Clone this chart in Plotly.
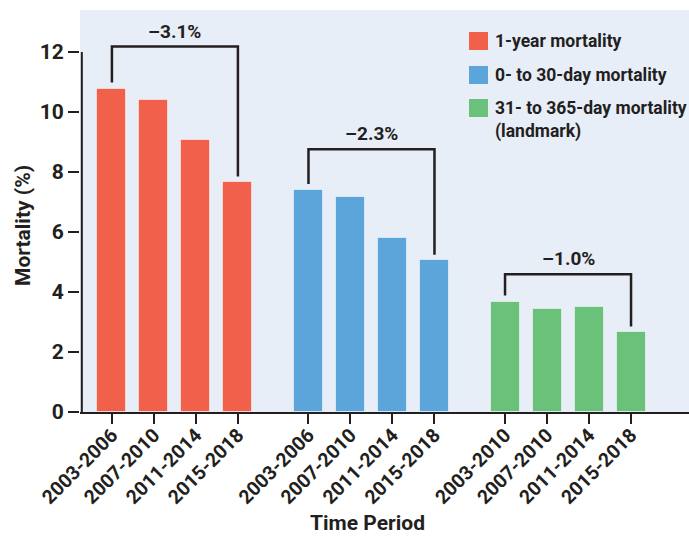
import plotly.graph_objects as go

periods_a = ["2003-2006", "2007-2010", "2011-2014", "2015-2018"]
periods_c = ["2003-2010", "2007-2010", "2011-2014", "2015-2018"]
series_names = ["1-year mortality", "0- to 30-day mortality", "31- to 365-day mortality<br>(landmark)"]
one_year = [10.78, 10.41, 9.08, 7.68]
day_0_30 = [7.40, 7.16, 5.80, 5.07]
day_31_365 = [3.68, 3.42, 3.49, 2.68]
bracket_levels = [12.18, 8.76, 4.59]
colors = ["#F0604A", "#5CA5DB", "#6AC17A"]

groups = [one_year, day_0_30, day_31_365]
group_labels = [periods_a, periods_a, periods_c]

GROUP_STEP = 4.68
W, H = 689, 536
L, R, T, B = 80, 0, 10, 124
PW, PH = W - L - R, H - T - B
FONT = "Roboto"
INK = "#231f20"


def px(x):
    return (x - L) / PW


def py(y):
    return (H - B - y) / PH


fig = go.Figure()
tickvals, ticktext = [], []
shapes, annotations = [], []
for g, (vals, labels, col) in enumerate(zip(groups, group_labels, colors)):
    xs = [g * GROUP_STEP + i for i in range(len(vals))]
    tickvals += xs
    ticktext += labels
    fig.add_trace(go.Bar(
        x=xs, y=vals, width=0.69, name=series_names[g],
        marker=dict(color=col, line=dict(color="rgba(255,255,255,0.55)", width=1)),
        showlegend=False, hoverinfo="y",
    ))
    lvl = bracket_levels[g]
    shapes.append(dict(
        type="path", xref="x", yref="y",
        path=f"M {xs[0]},{vals[0] + 0.2} L {xs[0]},{lvl} L {xs[-1]},{lvl} L {xs[-1]},{vals[-1] + 0.17}",
        line=dict(color=INK, width=2.5),
    ))
    change = vals[-1] - vals[0]
    annotations.append(dict(
        x=(xs[0] + xs[-1]) / 2, y=lvl, xref="x", yref="y",
        text=f"\u2013{abs(change):.1f}%", showarrow=False,
        yanchor="bottom", yshift=2,
        font=dict(family=FONT, size=19, color=INK, weight="bold"),
    ))

# y axis line (0 to 12)
shapes.append(dict(type="line", xref="paper", yref="y", x0=0.003, x1=0.003, y0=0, y1=12,
                   line=dict(color=INK, width=2)))

# manual legend
leg_y = [41, 75, 108]
for name, col, yy in zip(series_names, colors, leg_y):
    shapes.append(dict(type="rect", xref="paper", yref="paper",
                       x0=px(469), x1=px(488), y0=py(yy + 9), y1=py(yy - 9),
                       fillcolor=col, line=dict(width=0)))
    annotations.append(dict(
        x=px(493), y=py(yy - 12), xref="paper", yref="paper",
        text=name, showarrow=False, xanchor="left", yanchor="top", align="left",
        font=dict(family=FONT, size=17.5, color=INK, weight="bold"),
    ))

# axis titles
annotations.append(dict(x=px(367), y=py(523), xref="paper", yref="paper", text="Time Period",
                        showarrow=False, xanchor="center", yanchor="middle",
                        font=dict(family=FONT, size=21, color=INK, weight="bold")))
annotations.append(dict(x=px(23), y=py(226), xref="paper", yref="paper", text="Mortality (%)",
                        showarrow=False, textangle=-90, xanchor="center", yanchor="middle",
                        font=dict(family=FONT, size=21, color=INK, weight="bold")))

fig.update_layout(
    width=W, height=H,
    margin=dict(l=L, r=R, t=T, b=B),
    paper_bgcolor="white", plot_bgcolor="#E8EEF8",
    shapes=shapes, annotations=annotations,
    bargap=0,
    xaxis=dict(
        range=[-0.76, 13.74], tickvals=tickvals, ticktext=ticktext, tickangle=-45,
        showline=True, linecolor=INK, linewidth=2, ticks="outside", ticklen=10,
        tickwidth=2, tickcolor=INK, showgrid=False, zeroline=False, automargin=False,
        ticklabelstandoff=-8,
        tickfont=dict(family=FONT, size=19.5, color=INK, weight="bold"),
    ),
    yaxis=dict(
        range=[0, 13.4], tickvals=[0, 2, 4, 6, 8, 10, 12], ticks="outside", ticklen=11,
        tickwidth=2, tickcolor=INK, showgrid=False, zeroline=False, showline=False,
        automargin=False,
        tickfont=dict(family=FONT, size=21, color=INK, weight="bold"),
    ),
)

fig.write_html("out.html", config={"displayModeBar": False},
               post_script="document.body.style.margin='0';")
